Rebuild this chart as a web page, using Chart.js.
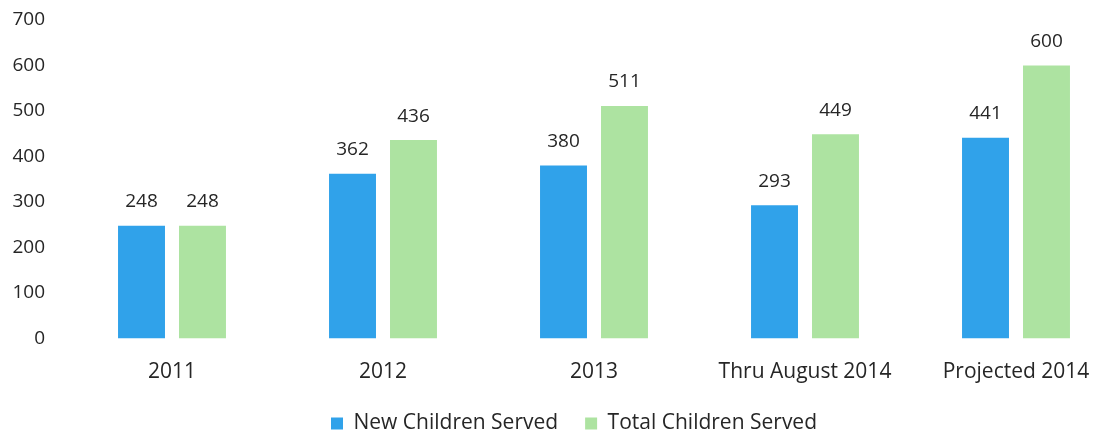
<!DOCTYPE html>
<html>
<head>
<meta charset="utf-8">
<script src="https://cdn.jsdelivr.net/npm/chart.js@4.4.1/dist/chart.umd.min.js"></script>
<style>
html,body{margin:0;padding:0;background:#fff;overflow:hidden;}
#wrap{width:1093px;height:436px;position:relative;overflow:hidden;}
#c{position:absolute;left:0;top:0;}
</style>
</head>
<body>
<div id="wrap"><canvas id="c" width="1138" height="444"></canvas></div>
<script>
const categories = ["2011", "2012", "2013", "Thru August 2014", "Projected 2014"];
const newChildren = [248, 362, 380, 293, 441];
const totalChildren = [248, 436, 511, 449, 600];
const yTicks = [0, 100, 200, 300, 400, 500, 600, 700];
const seriesNames = ["New Children Served", "Total Children Served"];

const FONT = "'Open Sans', 'DejaVu Sans', sans-serif";
const TEXT = "#262626";

const valueLabels = {
  id: "valueLabels",
  afterDatasetsDraw(chart) {
    const ctx = chart.ctx;
    ctx.save();
    ctx.font = "19px " + FONT;
    ctx.fillStyle = TEXT;
    ctx.textAlign = "center";
    ctx.textBaseline = "middle";
    chart.data.datasets.forEach((ds, di) => {
      const meta = chart.getDatasetMeta(di);
      meta.data.forEach((bar, i) => {
        ctx.fillText(String(ds.data[i]), bar.x, bar.y - 24);
      });
    });
    ctx.restore();
  }
};

new Chart(document.getElementById("c"), {
  type: "bar",
  data: {
    labels: categories,
    datasets: [
      { label: seriesNames[0], data: newChildren, backgroundColor: "#30a2ea", categoryPercentage: 0.578, barPercentage: 0.77 },
      { label: seriesNames[1], data: totalChildren, backgroundColor: "#ade3a1", categoryPercentage: 0.578, barPercentage: 0.77 }
    ]
  },
  options: {
    responsive: false,
    animation: false,
    layout: { padding: { top: 20, right: 0, left: 10, bottom: 0 } },
    plugins: {
      legend: {
        position: "bottom",
        labels: {
          font: { size: 21, family: FONT },
          color: TEXT,
          boxWidth: 12,
          boxHeight: 12,
          padding: 27
        }
      },
      tooltip: { enabled: false }
    },
    scales: {
      x: {
        afterFit(scale) { scale.height = 47.5; },
        grid: { display: false, drawTicks: false },
        border: { display: false },
        ticks: { font: { size: 21, family: FONT }, color: TEXT, padding: 21, maxRotation: 0 }
      },
      y: {
        min: 0, max: 700,
        afterFit(scale) { scale.width = 56.5; },
        afterBuildTicks(scale) { scale.ticks = yTicks.map(v => ({ value: v })); },
        grid: { display: false, drawTicks: true, tickLength: 21.5 },
        border: { display: false },
        ticks: { font: { size: 19, family: FONT }, color: TEXT, padding: 0 }
      },
      y2: {
        position: "right",
        afterFit(scale) { scale.width = 16.5; },
        grid: { display: false, drawTicks: false },
        border: { display: false },
        ticks: { display: false }
      }
    }
  },
  plugins: [valueLabels]
});
</script>
</body>
</html>
